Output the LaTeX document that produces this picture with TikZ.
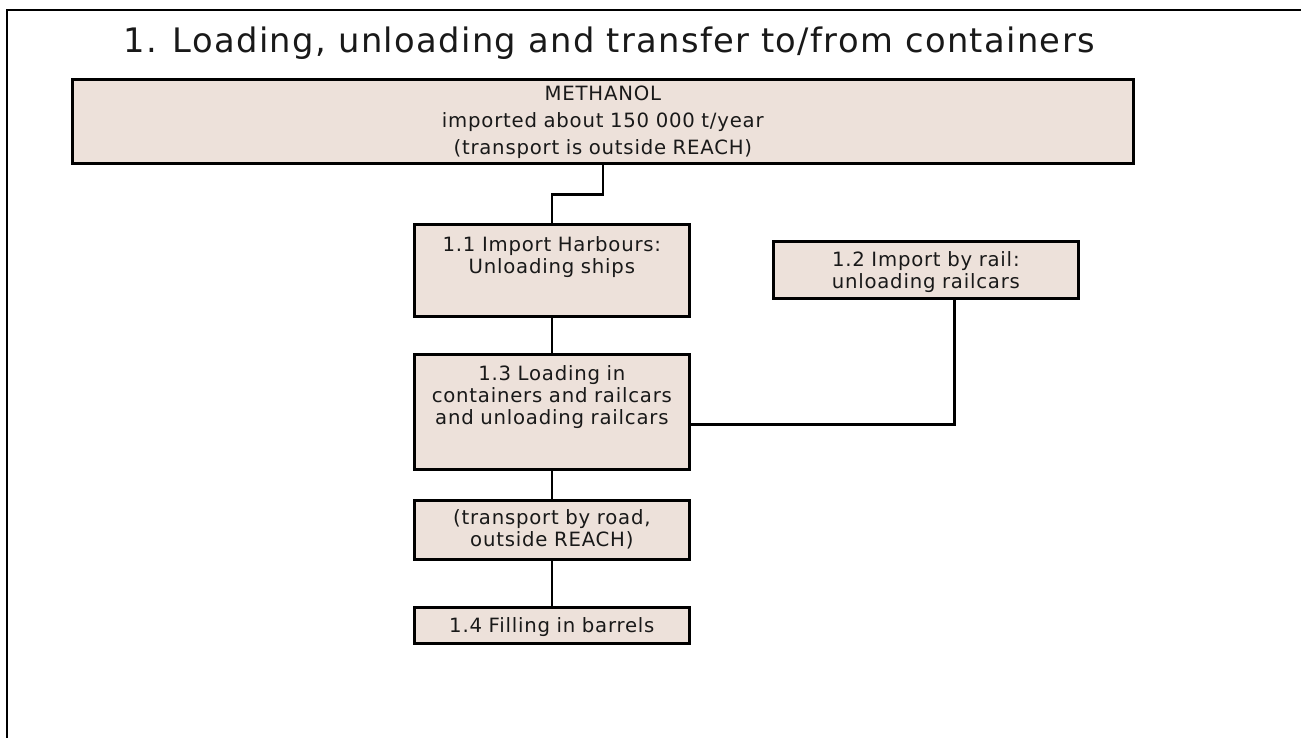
\documentclass[tikz,border=0pt]{standalone}
\usepackage{fontspec}
\setmainfont{DejaVu Sans}[LetterSpace=4]
\usepackage{tikz}

\definecolor{stagefill}{RGB}{237,225,218}
\definecolor{stagetext}{RGB}{25,25,25}

\begin{document}
\begin{tikzpicture}[
    stage/.style={draw,fill=stagefill,line width=1.5pt,inner sep=0pt,
      anchor=north west,align=center,text=stagetext,
      font=\fontsize{11.2}{12.6}\selectfont},
    link/.style={line width=1.5pt}]

    \useasboundingbox (0,0) rectangle (26.02,-14.76);

    %==================== Frame and title ====================
    \draw[line width=1.6pt] (0.14,-15) |- (26.5,-0.2);
    \node[anchor=base,font=\fontsize{19.2}{23}\selectfont,text=stagetext] (title) at (12.18,-1.06)
      {1. Loading, unloading and transfer to/from containers};

    %==================== Stages ====================
    \node[stage,text width=21.22cm,text height=0.42cm,text depth=1.26cm,
      font=\fontsize{11.2}{15.4}\selectfont] (meth) at (1.42,-1.56)
      {METHANOL\\imported about 150 000 t/year\\(transport is outside REACH)};

    \node[stage,text width=5.5cm,text height=0.54cm,text depth=1.30cm] (n11) at (8.26,-4.46)
      {1.1 Import Harbours:\\Unloading ships};
    \node[stage,text width=6.1cm,text height=0.50cm,text depth=0.64cm] (n12) at (15.44,-4.80)
      {1.2 Import by rail:\\unloading railcars};
    \node[stage,text width=5.5cm,text height=0.52cm,text depth=1.78cm] (n13) at (8.26,-7.06)
      {1.3 Loading in\\containers and railcars\\and unloading railcars};
    \node[stage,text width=5.5cm,text height=0.48cm,text depth=0.70cm] (road) at (8.26,-9.98)
      {(transport by road,\\outside REACH)};
    \node[stage,text width=5.5cm,text height=0.50cm,text depth=0.22cm] (n14) at (8.26,-12.12)
      {1.4 Filling in barrels};

    %==================== Connectors ====================
    \draw[link] (meth.south) -- ++(0,-0.6) -| (n11.north);
    \foreach \a/\b in {n11/n13,n13/road,road/n14} {
      \draw[link] (\a) -- (\b);
    }
    \draw[link] ([xshift=0.57cm]n12.south) |- ([yshift=-0.25cm]n13.east);

  \end{tikzpicture}
\end{document}
